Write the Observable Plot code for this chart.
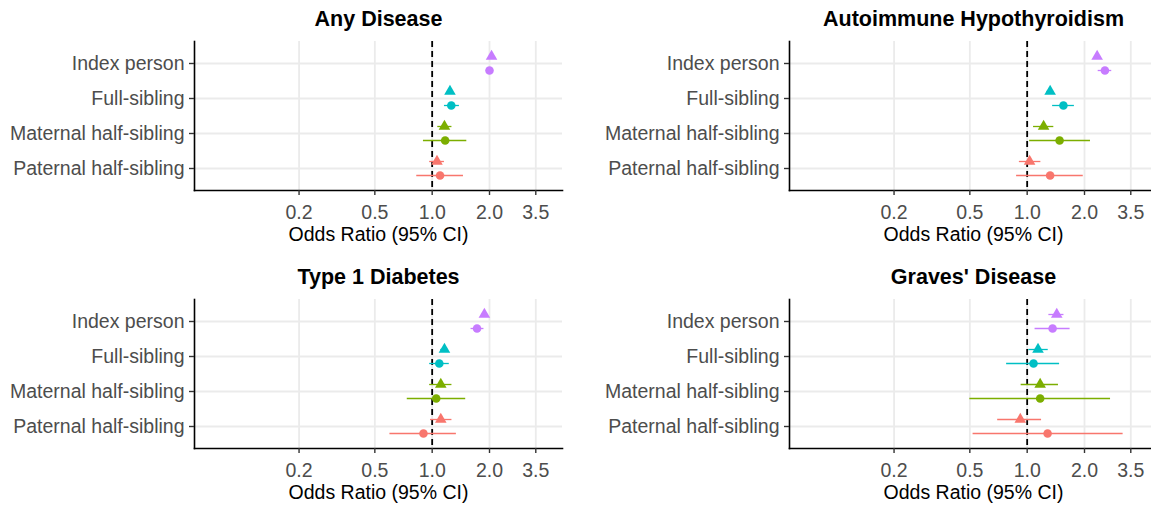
<!DOCTYPE html>
<html>
<head>
<meta charset="utf-8">
<script src="https://cdn.jsdelivr.net/npm/d3@7"></script>
<script src="https://cdn.jsdelivr.net/npm/@observablehq/plot@0.6"></script>
<style>
  html, body { margin: 0; padding: 0; background: #fff; overflow: hidden; }
  #wrap { position: relative; width: 1151px; height: 505px; overflow: hidden; }
  .panel { position: absolute; }
  .panel svg { overflow: visible; max-width: none !important; display: block; }
</style>
</head>
<body>
<div id="wrap"></div>
<script>
// ---- Data ----
const relations = ["Index person", "Full-sibling", "Maternal half-sibling", "Paternal half-sibling"];
const relationColors = ["#C77CFF", "#00BFC4", "#7CAE00", "#F8766D"];
const diseases = ["Any Disease", "Autoimmune Hypothyroidism", "Type 1 Diabetes", "Graves' Disease"];
const xTicks = [0.2, 0.5, 1.0, 2.0, 3.5];
const xTickLabels = ["0.2", "0.5", "1.0", "2.0", "3.5"];
const xLabel = "Odds Ratio (95% CI)";

// [odds ratio, lower CI, upper CI] per relation (order as relations)
const anyTriangle = [[2.05, 2.00, 2.10], [1.24, 1.21, 1.27], [1.16, 1.07, 1.27], [1.06, 0.97, 1.16]];
const anyCircle   = [[2.00, 1.96, 2.04], [1.26, 1.16, 1.39], [1.17, 0.90, 1.52], [1.10, 0.83, 1.46]];
const ahtTriangle = [[2.33, 2.26, 2.40], [1.32, 1.27, 1.37], [1.22, 1.08, 1.38], [1.03, 0.91, 1.18]];
const ahtCircle   = [[2.56, 2.36, 2.78], [1.55, 1.36, 1.77], [1.48, 1.03, 2.15], [1.32, 0.88, 1.97]];
const t1dTriangle = [[1.88, 1.82, 1.94], [1.16, 1.11, 1.21], [1.11, 0.97, 1.27], [1.11, 0.98, 1.27]];
const t1dCircle   = [[1.72, 1.60, 1.87], [1.09, 0.97, 1.23], [1.05, 0.74, 1.50], [0.90, 0.60, 1.34]];
const gdTriangle  = [[1.43, 1.30, 1.56], [1.14, 1.02, 1.29], [1.17, 0.93, 1.46], [0.92, 0.70, 1.19]];
const gdCircle    = [[1.36, 1.10, 1.68], [1.08, 0.78, 1.48], [1.17, 0.50, 2.74], [1.28, 0.52, 3.19]];

const panelData = [
  [anyTriangle, anyCircle],
  [ahtTriangle, ahtCircle],
  [t1dTriangle, t1dCircle],
  [gdTriangle, gdCircle]
];

// ---- Layout ----
const layout = [
  {left: 0,   top: 0,   width: 575, height: 258, ml: 194, mr: 13, mt: 41, mb: 68},
  {left: 575, top: 0,   width: 583, height: 258, ml: 214, mr: 1,  mt: 41, mb: 68},
  {left: 0,   top: 258, width: 575, height: 247, ml: 194, mr: 13, mt: 41, mb: 57},
  {left: 575, top: 258, width: 583, height: 247, ml: 214, mr: 1,  mt: 41, mb: 57}
];

const FONT = "'Liberation Sans', Arial, Helvetica, sans-serif";
const wrap = document.getElementById("wrap");

function toRows(arr) {
  return arr.map((v, i) => ({rel: relations[i], or: v[0], lo: v[1], hi: v[2]}));
}

diseases.forEach((disease, k) => {
  const L = layout[k];
  const tri = toRows(panelData[k][0]);
  const cir = toRows(panelData[k][1]);
  const DY = 7;
  const chart = Plot.plot({
    width: L.width,
    height: L.height,
    marginLeft: L.ml,
    marginRight: L.mr,
    marginTop: L.mt,
    marginBottom: L.mb,
    style: {fontFamily: FONT, background: "white", overflow: "visible", maxWidth: "none"},
    x: {type: "log", domain: [0.0565, 4.834], axis: null},
    y: {type: "point", domain: relations, padding: 0.6, axis: null},
    color: {domain: relations, range: relationColors},
    marks: [
      Plot.gridX(xTicks, {stroke: "#EBEBEB", strokeOpacity: 1, strokeWidth: 1.8}),
      Plot.gridY(relations, {stroke: "#EBEBEB", strokeOpacity: 1, strokeWidth: 1.8}),
      Plot.ruleX([1], {stroke: "black", strokeWidth: 1.8, strokeDasharray: "6,4"}),
      Plot.ruleY(tri, {y: "rel", x1: "lo", x2: "hi", stroke: "rel", strokeWidth: 1.3, dy: -DY}),
      Plot.ruleY(cir, {y: "rel", x1: "lo", x2: "hi", stroke: "rel", strokeWidth: 1.3, dy: DY}),
      Plot.dot(tri, {x: "or", y: "rel", fill: "rel", symbol: "triangle", r: 4.3, dy: -DY}),
      Plot.dot(cir, {x: "or", y: "rel", fill: "rel", symbol: "circle", r: 4.3, dy: DY}),
      Plot.frame({anchor: "left", stroke: "black", strokeWidth: 1.6}),
      Plot.frame({anchor: "bottom", stroke: "black", strokeWidth: 1.6}),
      Plot.axisY({tickSize: 5, tickFormat: () => "", stroke: "#333333", strokeWidth: 1.4, label: null}),
      Plot.axisY({tickSize: 0, tickPadding: 10, fontSize: 19.5, fill: "#4D4D4D", label: null}),
      Plot.axisX(xTicks, {tickSize: 5, tickFormat: () => "", stroke: "#333333", strokeWidth: 1.4, label: null}),
      Plot.text(xTicks, {x: d => d, text: (d, i) => xTickLabels[i], frameAnchor: "bottom", lineAnchor: "middle", dy: 22, fontSize: 19.5, fill: "#4D4D4D"}),
      Plot.text([disease], {frameAnchor: "top", lineAnchor: "middle", dy: -22, fontWeight: "bold", fontSize: 21.5, fill: "black"}),
      Plot.text([xLabel], {frameAnchor: "bottom", lineAnchor: "middle", dy: 44, fontSize: 19.5, fill: "black"})
    ]
  });
  const div = document.createElement("div");
  div.className = "panel";
  div.style.left = L.left + "px";
  div.style.top = L.top + "px";
  div.style.width = L.width + "px";
  div.style.height = L.height + "px";
  div.appendChild(chart);
  wrap.appendChild(div);
});
</script>
</body>
</html>
